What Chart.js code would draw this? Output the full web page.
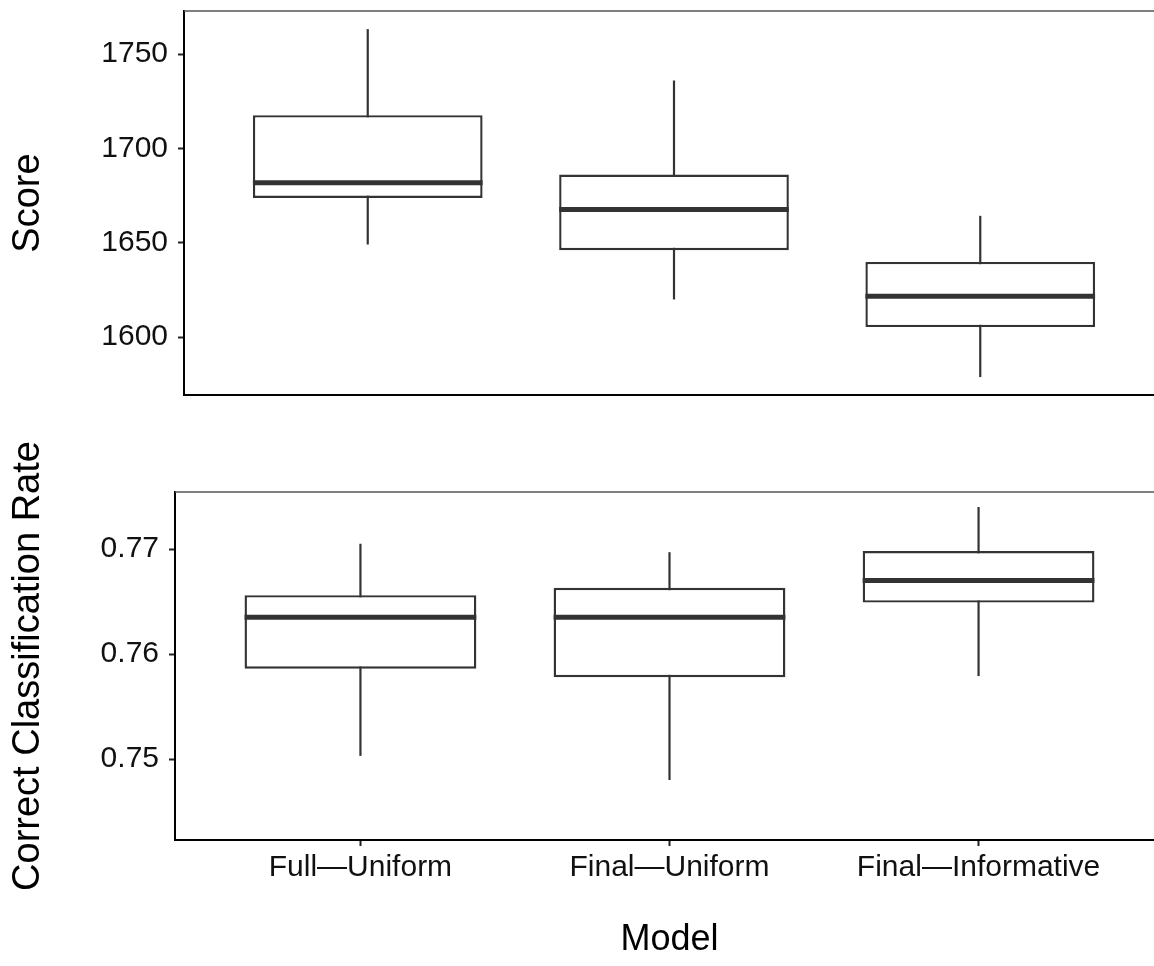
<!DOCTYPE html>
<html>
<head>
<meta charset="utf-8">
<script src="https://cdn.jsdelivr.net/npm/chart.js@4.4.1/dist/chart.umd.min.js"></script>
<style>
  html, body { margin: 0; padding: 0; background: #fff; overflow: hidden; width: 1154px; height: 966px; }
  .wrap { position: absolute; left: 0; }
  #w1 { top: 0; }
  #w2 { top: 420px; }
</style>
</head>
<body>
<div class="wrap" id="w1"><canvas id="c1" width="1170" height="420"></canvas></div>
<div class="wrap" id="w2"><canvas id="c2" width="1170" height="546"></canvas></div>
<script>
const categories = ['Full\u2014Uniform', 'Final\u2014Uniform', 'Final\u2014Informative'];
const categoryPositions = [1, 2, 3];

const scoreLow    = [1649.1, 1620.0, 1578.9];
const scoreQ1     = [1673.8, 1646.1, 1605.4];
const scoreMedian = [1681.8, 1667.7, 1621.7];
const scoreQ3     = [1717.6, 1686.2, 1639.9];
const scoreHigh   = [1763.2, 1736.0, 1664.3];

const ccrLow    = [0.7503, 0.7480, 0.7579];
const ccrQ1     = [0.7586, 0.7578, 0.7649];
const ccrMedian = [0.7635, 0.7635, 0.7670];
const ccrQ3     = [0.7656, 0.7663, 0.7698];
const ccrHigh   = [0.7705, 0.7697, 0.7740];

const scoreTicks = [1600, 1650, 1700, 1750];
const ccrTicks = [0.75, 0.76, 0.77];

const FONT = "'Liberation Sans', Arial, sans-serif";
const INK = '#333333';

function boxPlugin(low, med, high) {
  return {
    id: 'boxparts',
    beforeDatasetsDraw(chart) {
      const ctx = chart.ctx, y = chart.scales.y;
      const meta = chart.getDatasetMeta(0);
      ctx.save();
      ctx.strokeStyle = INK;
      ctx.lineWidth = 2.2;
      meta.data.forEach((bar, i) => {
        ctx.beginPath();
        ctx.moveTo(bar.x, y.getPixelForValue(low[i]));
        ctx.lineTo(bar.x, y.getPixelForValue(high[i]));
        ctx.stroke();
      });
      ctx.restore();
    },
    afterDatasetsDraw(chart) {
      const ctx = chart.ctx, y = chart.scales.y;
      const meta = chart.getDatasetMeta(0);
      ctx.save();
      ctx.strokeStyle = INK;
      ctx.lineWidth = 5;
      meta.data.forEach((bar, i) => {
        const py = y.getPixelForValue(med[i]);
        ctx.beginPath();
        ctx.moveTo(bar.x - bar.width / 2, py);
        ctx.lineTo(bar.x + bar.width / 2, py);
        ctx.stroke();
      });
      ctx.restore();
    },
    afterDraw(chart) {
      const ctx = chart.ctx, a = chart.chartArea;
      ctx.save();
      ctx.strokeStyle = '#555555';
      ctx.lineWidth = 1.5;
      ctx.beginPath();
      ctx.moveTo(a.left, a.top);
      ctx.lineTo(a.right + 10, a.top);
      ctx.stroke();
      ctx.restore();
    }
  };
}

function makeChart(canvasId, cfg) {
  const data = categoryPositions.map((p, i) => ({ x: p, y: [cfg.q1[i], cfg.q3[i]] }));
  return new Chart(document.getElementById(canvasId), {
    type: 'bar',
    data: {
      datasets: [{
        data: data,
        backgroundColor: '#ffffff',
        borderColor: INK,
        borderWidth: 2.4,
        borderSkipped: false,
        categoryPercentage: 1,
        barPercentage: 0.75
      }]
    },
    options: {
      responsive: false,
      animation: false,
      devicePixelRatio: 1,
      layout: { padding: cfg.padding },
      plugins: { legend: { display: false }, tooltip: { enabled: false } },
      scales: {
        x: {
          type: 'linear',
          offset: false,
          min: 0.4, max: 3.6,
          afterBuildTicks(s) { s.ticks = categoryPositions.map(v => ({ value: v })); },
          afterFit(s) { s.height = cfg.xHeight; s.paddingLeft = 0; s.paddingRight = 0; },
          grid: { display: true, offset: false, drawOnChartArea: false, drawTicks: cfg.showX, tickLength: 6, tickWidth: 2, color: '#222' },
          border: { display: true, color: '#000', width: 2 },
          ticks: {
            display: cfg.showX,
            autoSkip: false,
            maxRotation: 0,
            padding: 4,
            color: '#111',
            font: { family: FONT, size: 30 },
            callback: (v) => categories[categoryPositions.indexOf(v)] || ''
          },
          title: {
            display: cfg.showX,
            text: 'Model',
            color: '#000',
            font: { family: FONT, size: 36 },
            padding: { top: 0, bottom: 4 }
          }
        },
        y: {
          min: cfg.min, max: cfg.max,
          afterBuildTicks(s) { s.ticks = cfg.ticks.map(v => ({ value: v })); },
          afterFit(s) { s.width = cfg.yWidth; s.paddingTop = 0; s.paddingBottom = 0; },
          grid: { display: true, drawOnChartArea: false, drawTicks: true, tickLength: 6, tickWidth: 2, color: '#222' },
          border: { display: true, color: '#000', width: 2 },
          ticks: {
            padding: 10,
            color: '#111',
            font: { family: FONT, size: 30 },
            callback: cfg.fmt
          },
          title: {
            display: true,
            text: cfg.yTitle,
            color: '#000',
            font: { family: FONT, size: 38 },
            padding: { top: 6, bottom: 0 }
          }
        }
      }
    },
    plugins: [boxPlugin(cfg.low, cfg.med, cfg.high)]
  });
}

makeChart('c1', {
  q1: scoreQ1, q3: scoreQ3, low: scoreLow, med: scoreMedian, high: scoreHigh,
  min: 1569.4, max: 1772.8, ticks: scoreTicks, fmt: (v) => String(v),
  yTitle: 'Score', yWidth: 184, xHeight: 0, showX: false,
  padding: { top: 11, bottom: 25, left: 0, right: 6 }
});

makeChart('c2', {
  q1: ccrQ1, q3: ccrQ3, low: ccrLow, med: ccrMedian, high: ccrHigh,
  min: 0.74229, max: 0.77543, ticks: ccrTicks, fmt: (v) => v.toFixed(2),
  yTitle: 'Correct Classification Rate', yWidth: 175, xHeight: 126, showX: true,
  padding: { top: 72, bottom: 0, left: 0, right: 6 }
});
</script>
</body>
</html>
